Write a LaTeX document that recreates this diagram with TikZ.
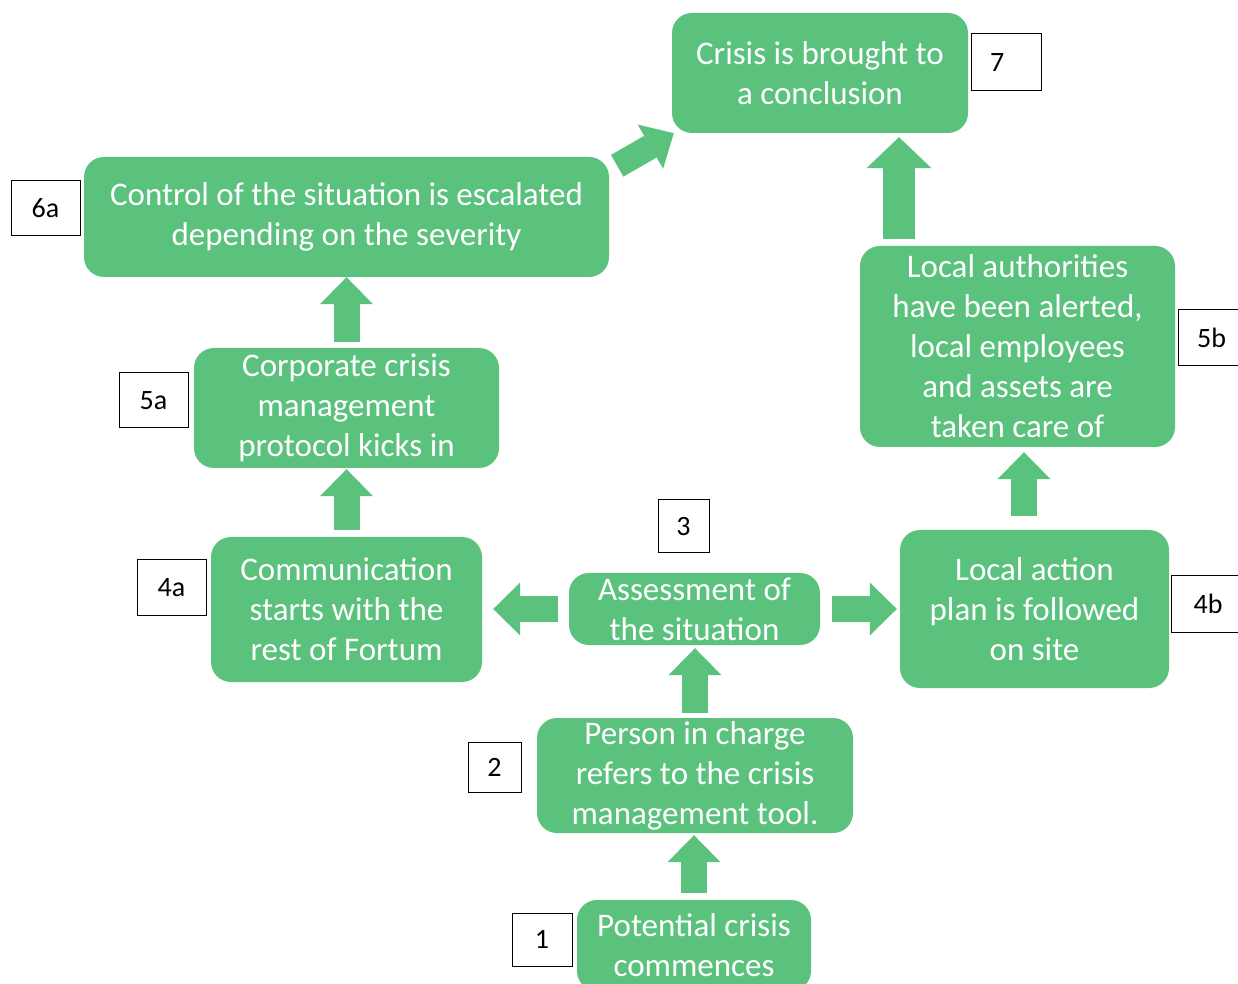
\documentclass[tikz,border=0pt]{standalone}
\usepackage{fontspec}
\setmainfont{Carlito}
\usetikzlibrary{arrows.meta,calc}
\definecolor{boxgreen}{HTML}{5BC27E}
\tikzset{
  stepbox/.style={fill=boxgreen, draw=none, rounded corners=20pt, text=white,
    font=\fontsize{33}{40}\selectfont, align=center, inner sep=0pt},
  numbox/.style={draw=black, line width=1pt, fill=white,
    font=\fontsize{28}{34}\selectfont, inner sep=0pt},
  flow/.style={draw=boxgreen, line width=26pt,
    -{Triangle[width=53pt,length=27pt,line width=0pt]}},
  bigflow/.style={draw=boxgreen, line width=32pt,
    -{Triangle[width=65pt,length=31pt,line width=0pt]}},
}
\begin{document}
\begin{tikzpicture}[x=1pt,y=1pt]
\useasboundingbox (0,0) rectangle (1238,983);
\clip (0,0) rectangle (1238,983);

% step boxes
\node[stepbox, minimum width=296pt, minimum height=120pt] (n7) at (820,910) {Crisis is brought to\\a conclusion};
\node[stepbox, minimum width=525pt, minimum height=120pt] (n6a) at (346.5,766) {Control of the situation is escalated\\depending on the severity};
\node[stepbox, minimum width=305pt, minimum height=120pt] (n5a) at (346.5,575) {Corporate crisis\\management\\protocol kicks in};
\node[stepbox, minimum width=271pt, minimum height=145pt] (n4a) at (346.5,373.5) {Communication\\starts with the\\rest of Fortum};
\node[stepbox, minimum width=251pt, minimum height=72pt] (n3) at (694.5,374) {Assessment of\\the situation};
\node[stepbox, minimum width=316pt, minimum height=115pt] (n2) at (695,207.5) {Person in charge\\refers to the crisis\\management tool.};
\node[stepbox, minimum width=234pt, minimum height=91pt] (n1) at (694,37.5) {Potential crisis\\commences};
\node[stepbox, minimum width=269pt, minimum height=158pt] (n4b) at (1034.5,374) {Local action\\plan is followed\\on site};
\node[stepbox, minimum width=315pt, minimum height=201pt] (n5b) at (1017.5,636.5) {Local authorities\\have been alerted,\\local employees\\and assets are\\taken care of};

% number labels
\node[numbox, minimum width=70pt, minimum height=57pt, text width=32pt, inner xsep=19pt, align=left] (l7) at (1006,920.5) {7};
\node[numbox, minimum width=69pt, minimum height=55pt] (l6a) at (45.5,774.5) {6a};
\node[numbox, minimum width=69pt, minimum height=55pt] (l5a) at (153.5,582.5) {5a};
\node[numbox, minimum width=69pt, minimum height=55pt] (l4a) at (171.5,395.5) {4a};
\node[numbox, minimum width=51pt, minimum height=53pt] (l3) at (683.5,456.5) {3};
\node[numbox, minimum width=53pt, minimum height=50pt] (l2) at (494.5,216) {2};
\node[numbox, minimum width=60pt, minimum height=53pt] (l1) at (542,43.5) {1};
\node[numbox, minimum width=74pt, minimum height=56pt] (l4b) at (1208,379) {4b};
\node[numbox, minimum width=67pt, minimum height=56pt] (l5b) at (1211.5,645) {5b};

% block arrows
\draw[flow] ([yshift=7pt]n1.north) -- ([yshift=-2pt]n1.north |- n2.south);
\draw[flow] ([yshift=5pt]n2.north) -- ([yshift=-3pt]n2.north |- n3.south);
\draw[flow] ([xshift=-11pt]n3.west) -- ([xshift=11pt]n4a.east |- n3.west);
\draw[flow] ([xshift=12pt]n3.east) -- ([xshift=-3pt]n4b.west |- n3.east);
\draw[flow] ([xshift=-10.5pt,yshift=14pt]n4b.north) -- ([xshift=6.5pt,yshift=-5pt]n5b.south);
\draw[flow] ([yshift=7pt]n4a.north) -- ([yshift=-1pt]n5a.south);
\draw[flow] ([yshift=6pt]n5a.north) -- (n6a.south);
\draw[bigflow] ([xshift=-118.5pt,yshift=7pt]n5b.north) -- ([xshift=79pt,yshift=-4pt]n7.south);
\draw[flow, line width=25pt, -{Triangle[width=51pt,length=27pt,line width=0pt]}]
  ([xshift=8pt,yshift=-9pt]n6a.north east) -- ([xshift=2pt]n7.south west);
\end{tikzpicture}
\end{document}
